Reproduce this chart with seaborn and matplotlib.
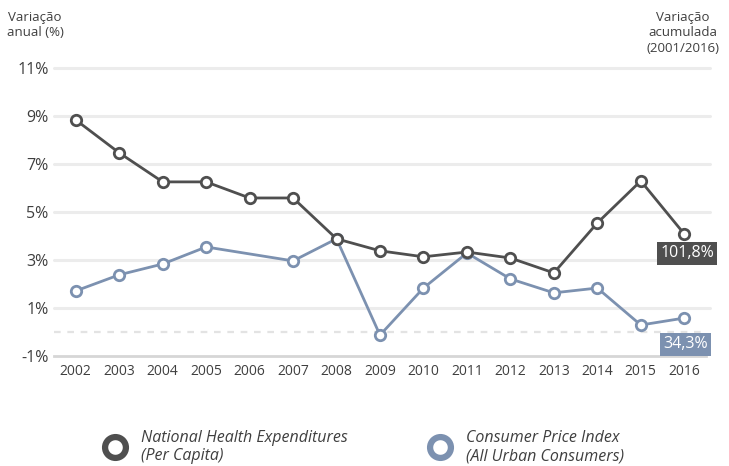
import numpy as np
import pandas as pd
import matplotlib
matplotlib.use('Agg')
import matplotlib.pyplot as plt
import seaborn as sns
from matplotlib.lines import Line2D

# ---------------- dados ----------------
anos = list(range(2002, 2017))
nhe = [8.83, 7.46, 6.25, 6.25, 5.58, 5.58, 3.88, 3.38, 3.13, 3.33, 3.08, 2.46, 4.54, 6.29, 4.08]
cpi_anos = [2002, 2003, 2004, 2005, 2007, 2008, 2009, 2010, 2011, 2012, 2013, 2014, 2015, 2016]
cpi = [1.71, 2.38, 2.83, 3.54, 2.96, 3.88, -0.13, 1.83, 3.29, 2.21, 1.63, 1.83, 0.29, 0.58]
acumulado = ['101,8%', '34,3%']
series = ['National Health Expenditures\n(Per Capita)', 'Consumer Price Index\n(All Urban Consumers)']
y_ticks = [-1, 1, 3, 5, 7, 9, 11]

COR_NHE = '#4f4f4f'
COR_CPI = '#7c91b0'
COR_TXT = '#3f3f3f'

sns.set_theme(style='white')
plt.rcParams['font.family'] = ['Open Sans', 'DejaVu Sans']

fig = plt.figure(figsize=(7.29, 4.66), dpi=100)
ax = fig.add_axes([54 / 729, 1 - 356 / 466, (706 - 54) / 729, (356 - 63) / 466])

df_nhe = pd.DataFrame({'ano': anos, 'valor': nhe})
df_cpi = pd.DataFrame({'ano': cpi_anos, 'valor': cpi})

estilo = dict(marker='o', markersize=7.5, markerfacecolor='white', markeredgewidth=2.0,
              linewidth=2.0, zorder=5, clip_on=False)
sns.lineplot(data=df_cpi, x='ano', y='valor', color=COR_CPI, markeredgecolor=COR_CPI, ax=ax, **estilo)
sns.lineplot(data=df_nhe, x='ano', y='valor', color=COR_NHE, markeredgecolor=COR_NHE, ax=ax, **estilo)

ax.set_xlim(2001.5, 2016.5)
ax.set_ylim(-1, 11.2)

# grade horizontal
for v in y_ticks[1:]:
    ax.axhline(v, color='#ececec', lw=2.2, zorder=1, xmax=1.006, clip_on=False)
ax.axhline(0, color='#e3e3e3', lw=1.6, ls=(0, (3, 3)), zorder=1)

ax.set_yticks(y_ticks)
ax.set_yticklabels([f'{v}%' for v in y_ticks], fontsize=11.5, color=COR_TXT)
ax.tick_params(axis='y', length=0, pad=4)

ax.set_xticks(anos)
ax.set_xticklabels([str(a) for a in anos], fontsize=10, color=COR_TXT)
ax.set_xticks(np.arange(2001.5, 2017, 1), minor=True)
ax.tick_params(axis='x', which='major', length=0, pad=6)
ax.tick_params(axis='x', which='minor', length=5, width=1.5, color='#d6d6d6', direction='out')

for s in ['top', 'right', 'left']:
    ax.spines[s].set_visible(False)
ax.spines['bottom'].set_color('#d6d6d6')
ax.spines['bottom'].set_linewidth(2)
ax.set_xlabel('')
ax.set_ylabel('')
ax.grid(False)

# rótulos de variação acumulada
ax.annotate(acumulado[0], xy=(anos[-1], nhe[-1]), xytext=(2, -14), textcoords='offset points',
            ha='center', va='center', fontsize=11.5, color='white', zorder=6,
            bbox=dict(boxstyle='square,pad=0.2', fc=COR_NHE, ec='none'))
ax.annotate(acumulado[1], xy=(cpi_anos[-1], cpi[-1]), xytext=(1, -19), textcoords='offset points',
            ha='center', va='center', fontsize=11.5, color='white', zorder=6,
            bbox=dict(boxstyle='square,pad=0.2', fc=COR_CPI, ec='none'))

# títulos dos eixos
fig.text(35 / 729, 1 - 25 / 466, 'Variação\nanual (%)', ha='center', va='center',
         fontsize=9.5, color=COR_TXT, linespacing=1.3)
fig.text(683 / 729, 1 - 33 / 466, 'Variação\nacumulada\n(2001/2016)', ha='center', va='center',
         fontsize=9.5, color=COR_TXT, linespacing=1.3)

# legenda
handles = [Line2D([], [], ls='none', marker='o', markersize=15, markerfacecolor='white',
                  markeredgewidth=4.5, markeredgecolor=c) for c in [COR_NHE, COR_CPI]]
leg = fig.legend(handles, series, loc='center', bbox_to_anchor=(0.5, 1 - 447 / 466), ncol=2,
                 frameon=False, handletextpad=1.0, columnspacing=5.2, handlelength=1.2,
                 prop=dict(style='italic', size=11.5))
for t in leg.get_texts():
    t.set_color(COR_TXT)

fig.savefig('out.png', dpi=100)
